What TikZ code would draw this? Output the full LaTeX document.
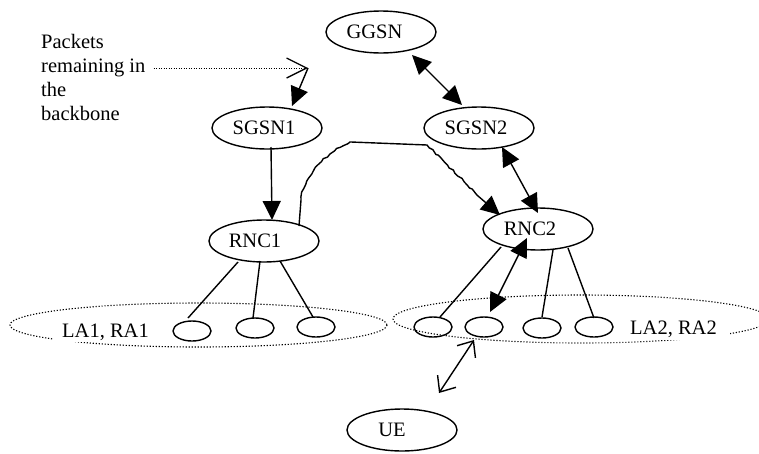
\documentclass[tikz,border=0pt]{standalone}
\usepackage{fontspec}
\setmainfont{Liberation Serif}
\usetikzlibrary{shapes.geometric,arrows.meta,decorations.pathmorphing}
\begin{document}
\begin{tikzpicture}[x=1pt,y=-1pt,
  font=\fontsize{20.5}{24}\selectfont,
  ln/.style={line width=1.4pt},
  el/.style={ellipse,draw,line width=1.4pt,inner sep=0pt,minimum width=110pt,minimum height=42pt},
  sm/.style={ellipse,draw,line width=1.4pt,inner sep=0pt,minimum width=38pt,minimum height=20pt},
  area/.style={draw,line width=1.1pt,dash pattern=on 1.2pt off 1.8pt},
  tri/.style={-{Triangle[length=19pt,width=18pt]}},
  dtri/.style={{Triangle[length=19pt,width=18pt]}-{Triangle[length=19pt,width=18pt]}},
  dbarb/.style={{Straight Barb[length=13pt,width=22pt]}-{Straight Barb[length=13pt,width=22pt]}},
  wavy/.style={decoration={random steps,segment length=4pt,amplitude=0.9pt}}
]
\pgfmathsetseed{3}
\useasboundingbox (0,0) rectangle (759,453);

% areas
\draw[area] (198.5,325) ellipse [x radius=188.5, y radius=22];
\draw[area] (581,319) ellipse [x radius=188, y radius=24];
\fill[white] (53,314) rectangle (160,342);
\fill[white] (622,307) rectangle (730,340);
\node[anchor=base west,inner sep=0pt] (la1) at (62,337) {LA1, RA1};
\node[anchor=base west,inner sep=0pt] (la2) at (630,334) {LA2, RA2};

% main nodes
\node[el,label={[xshift=-6.5pt]center:GGSN}] (ggsn) at (381,32) {};
\node[el,label={[xshift=-3pt]center:SGSN2}] (sgsn2) at (479,128) {};
\node[el,label={[xshift=-3pt]center:SGSN1}] (sgsn1) at (267,128) {};
\node[el,label={[xshift=-9pt]center:RNC1}] (rnc1) at (264,241) {};
\node[el,label={[xshift=-8pt]center:RNC2}] (rnc2) at (538,229) {};
\node[el,label={[xshift=-10pt]center:UE}] (ue) at (402,430) {};

% cells
\node[sm] (a1) at (192,331) {};
\node[sm] (a2) at (255,328) {};
\node[sm] (a3) at (316,327) {};
\node[sm] (b1) at (433,327) {};
\node[sm] (b2) at (484,327) {};
\node[sm] (b3) at (542,328) {};
\node[sm] (b4) at (594,327) {};

% packets note
\node[anchor=north west,inner sep=0pt,align=left] (pk) at (41,34) {Packets\\remaining in\\the\\backbone};
\coordinate (pt) at (308,68);
\draw[line width=0.9pt,dash pattern=on 1pt off 1.5pt,shorten <=8pt,
  -{Straight Barb[length=20pt,width=20pt,line width=1.3pt]}] (pk.east |- pt) -- (pt);
\draw[ln,tri] (pt) -- ([shift={(25,-22)}]sgsn1.center);

% connectors
\draw[ln,tri] ([shift={(4,19)}]sgsn1.center) -- ([shift={(8,-21)}]rnc1.center);
\draw[ln,dtri] ([shift={(31,23)}]ggsn.center) -- ([shift={(-17,-23)}]sgsn2.center);
\draw[ln,dtri] ([shift={(23,19)}]sgsn2.center) -- ([shift={(0,-16)}]rnc2.center);
\draw[ln,dtri] ([shift={(-11,9)}]rnc2.center) -- ([shift={(6,-15)}]b2.center);
\draw[ln,dbarb] ([shift={(-10,13)}]b2.center) -- ([shift={(37,-37)}]ue.center);

\draw[ln] ([shift={(-26,21)}]rnc1.center) -- ([shift={(-4,-13)}]a1.center);
\draw[ln] ([shift={(-4,20)}]rnc1.center) -- ([shift={(-2,-10)}]a2.center);
\draw[ln] ([shift={(16,20)}]rnc1.center) -- ([shift={(-3,-10)}]a3.center);

\draw[ln] ([shift={(-37,18)}]rnc2.center) -- ([shift={(7,-10)}]b1.center);
\draw[ln] ([shift={(15,21)}]rnc2.center) -- ([shift={(0,-11)}]b3.center);
\draw[ln] ([shift={(30,19)}]rnc2.center) -- ([shift={(0,-9)}]b4.center);

% wavy link RNC1 -> RNC2
\draw[ln,tri] ([shift={(35,-15)}]rnc1.center) -- (301,200)
  decorate[wavy]{ .. controls (303,178) and (322,155) .. (350,142)}
  -- (427,145)
  decorate[wavy]{ -- (485,202)}
  -- ([shift={(-38,-14)}]rnc2.center);
\end{tikzpicture}
\end{document}
